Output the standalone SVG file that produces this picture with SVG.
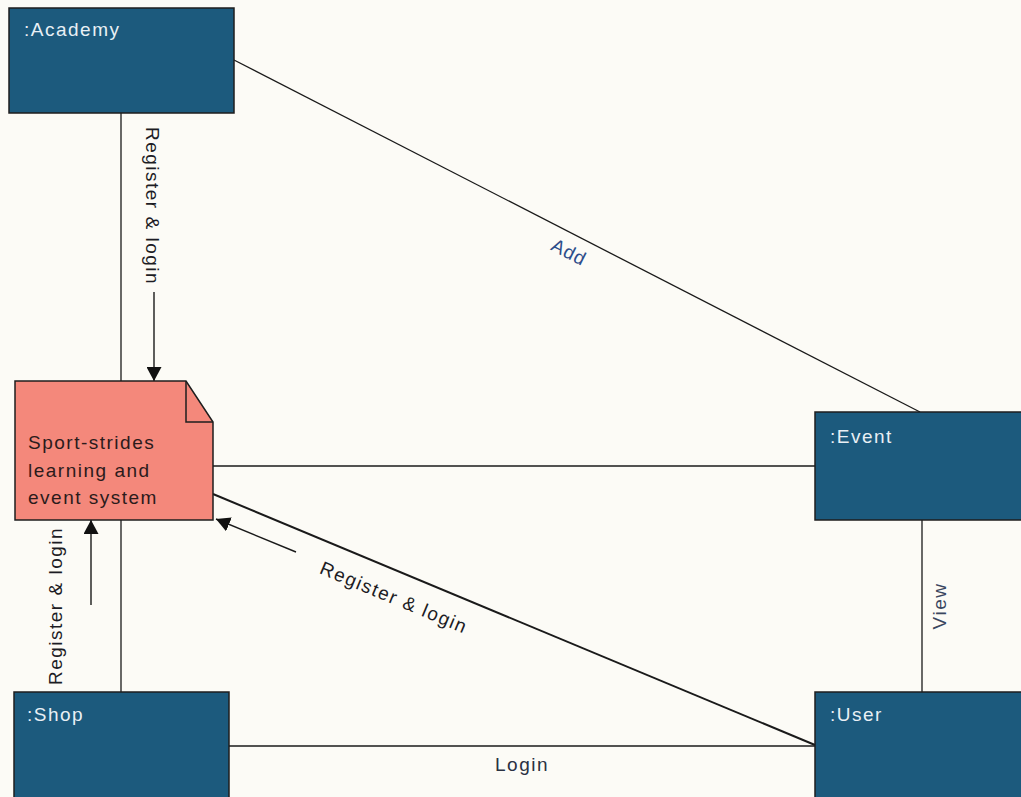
<svg xmlns="http://www.w3.org/2000/svg" width="1021" height="797" viewBox="0 0 1021 797">
  <style>
    .obj { fill: #1c5a7d; stroke: #1e1e1e; stroke-width: 1.5; }
    .objname { font-family: "Liberation Sans", Arial, sans-serif; font-size: 19px; letter-spacing: 1.5px; fill: #e9f0f5; }
    .link { stroke: #1a1a1a; stroke-width: 1.3; fill: none; }
    .flow { stroke: #1a1a1a; stroke-width: 1.4; fill: none; marker-end: url(#head); }
    .lbl { font-family: "Liberation Sans", Arial, sans-serif; font-size: 19px; letter-spacing: 1.5px; fill: #1c1c24; text-anchor: middle; }
  </style>
  <defs>
    <marker id="head" viewBox="0 0 14 15" refX="14" refY="7.5" markerWidth="14" markerHeight="15" markerUnits="userSpaceOnUse" orient="auto">
      <path d="M0,0 L14,7.5 L0,15 z" fill="#111"/>
    </marker>
  </defs>

  <rect x="0" y="0" width="1021" height="797" fill="#fcfbf6"/>

  <!-- connectors -->
  <g id="connectors">
    <line class="link" x1="121" y1="113" x2="121" y2="381"/>
    <line class="link" x1="121" y1="520" x2="121" y2="692"/>
    <line class="link" x1="234" y1="60" x2="920" y2="412"/>
    <line class="link" x1="213" y1="466" x2="815" y2="466"/>
    <line class="link" x1="213" y1="494" x2="815" y2="745" style="stroke-width:2"/>
    <line class="link" x1="229" y1="746" x2="815" y2="746"/>
    <line class="link" x1="922" y1="520" x2="922" y2="692"/>

    <line class="flow" x1="154" y1="292" x2="154" y2="381"/>
    <line class="flow" x1="91" y1="605" x2="91" y2="520"/>
    <line class="flow" x1="296" y1="552" x2="216" y2="519"/>

    <text class="lbl" x="146" y="206" transform="rotate(90 146 206)">Register &amp; login</text>
    <text class="lbl" x="62" y="606" transform="rotate(-90 62 606)">Register &amp; login</text>
    <text class="lbl" x="391.5" y="603.5" transform="rotate(22.6 391.5 603.5)">Register &amp; login</text>
    <text class="lbl" x="566" y="258" transform="rotate(27.2 566 258)" style="fill:#2d4d8a;letter-spacing:1px">Add</text>
    <text class="lbl" x="946" y="606" transform="rotate(-90 946 606)" style="fill:#3a4660">View</text>
    <text class="lbl" x="522" y="771" style="fill:#2a3142">Login</text>
  </g>

  <g id="academy">
    <rect class="obj" x="9" y="8" width="225" height="105"/>
    <text class="objname" x="24" y="36">:Academy</text>
  </g>

  <g id="system">
    <path d="M15,381 L186,381 L213,422 L213,520 L15,520 Z" fill="#f4887b" stroke="#1e1e1e" stroke-width="1.5"/>
    <path d="M186,381 L186,422 L213,422" fill="none" stroke="#1e1e1e" stroke-width="1.5"/>
    <text font-family="'Liberation Sans', Arial, sans-serif" font-size="19" letter-spacing="1.5" fill="#2b1b1b">
      <tspan x="28" y="449">Sport-strides</tspan>
      <tspan x="28" y="476.5">learning and</tspan>
      <tspan x="28" y="504">event system</tspan>
    </text>
  </g>

  <g id="event">
    <rect class="obj" x="815" y="412" width="212" height="108"/>
    <text class="objname" x="830" y="443">:Event</text>
  </g>

  <g id="shop">
    <rect class="obj" x="14" y="692" width="215" height="112"/>
    <text class="objname" x="27" y="721">:Shop</text>
  </g>

  <g id="user">
    <rect class="obj" x="815" y="692" width="212" height="112"/>
    <text class="objname" x="830" y="721">:User</text>
  </g>
</svg>
